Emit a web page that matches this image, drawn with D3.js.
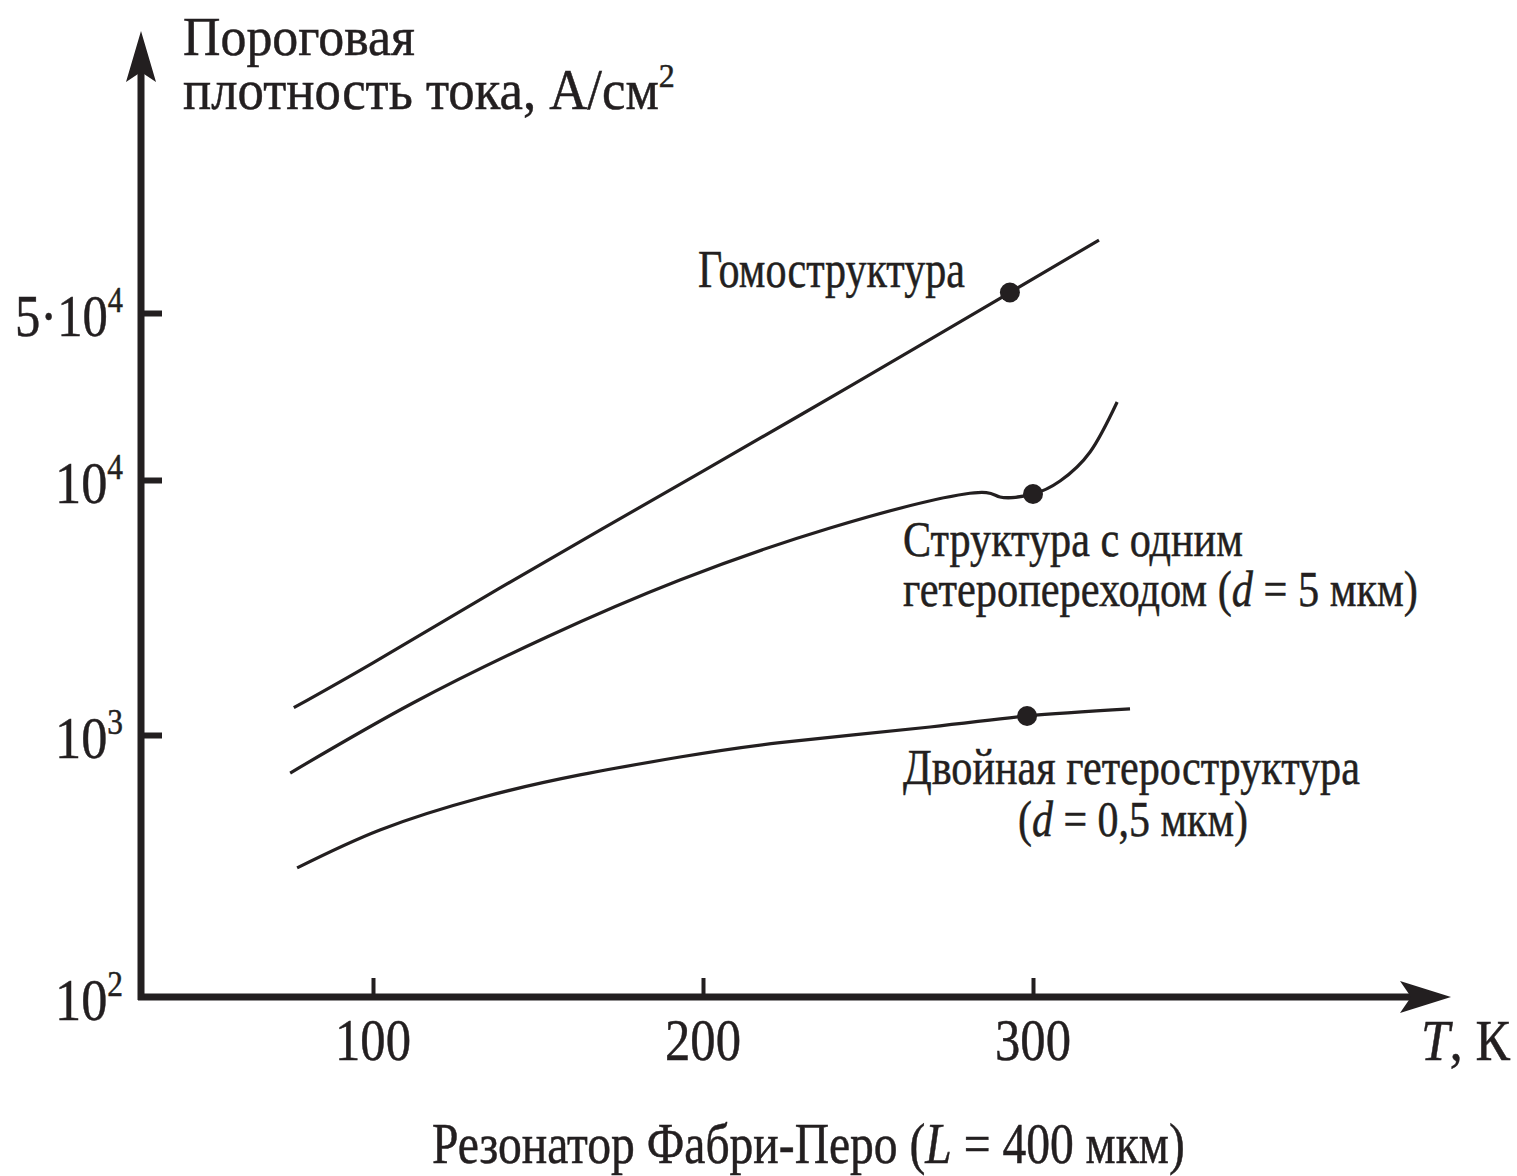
<!DOCTYPE html>
<html>
<head>
<meta charset="utf-8">
<script src="https://cdn.jsdelivr.net/npm/d3@7"></script>
<style>
  html, body { margin: 0; padding: 0; background: #fff; }
  svg { display: block; }
  text { font-family: "Liberation Serif", "DejaVu Serif", serif; fill: #231f20; stroke: #231f20; stroke-width: 0.5px; }
</style>
</head>
<body>
<svg id="chart" width="1517" height="1176"></svg>
<script>
// ---------- data ----------
const xTicks = [100, 200, 300];
const xTickLabels = ["100", "200", "300"];
const yTicks = [100, 1000, 10000, 50000];
const yTickMain = ["10", "10", "10", "5·10"];
const yTickSup = ["2", "3", "4", "4"];

const homoT = [76, 100, 138, 200, 245, 293, 320];
const homoJ = [1280, 1920, 3740, 10900, 24900, 60900, 101000];

const singleT = [74.9, 112.1, 152.7, 193, 238.5, 279.4, 290, 300, 308.2, 317.3, 325.5];
const singleJ = [716, 1335, 2423, 4053, 6483, 8812, 8576, 8812, 9910, 13100, 21210];

const doubleT = [77, 102.1, 132.4, 162.7, 193, 223.3, 268.8, 298.2, 329.4];
const doubleJ = [311, 434, 575, 704, 824, 935, 1075, 1187, 1265];

const markT = [293, 300, 298.2];
const markJ = [60900, 8812, 1187];

// ---------- layout ----------
const ink = "#231f20";
const svg = d3.select("#chart");
svg.append("rect").attr("width", 1517).attr("height", 1176).attr("fill", "#fff");

const x = d3.scaleLinear().domain([100, 300]).range([373, 1033]);
const y = d3.scaleLog().domain([100, 1000, 10000, 50000]).range([997, 735, 480, 313]);

const axisX0 = 141, axisY0 = 997;

// tick marks via d3 axes (inward)
const gx = svg.append("g").attr("transform", `translate(0,${axisY0})`)
  .call(d3.axisTop(x).tickValues(xTicks).tickSize(19).tickFormat(""));
gx.select(".domain").remove();
gx.selectAll(".tick line").attr("stroke", ink).attr("stroke-width", 4);

const gy = svg.append("g").attr("transform", `translate(${axisX0},0)`)
  .call(d3.axisRight(y).tickValues(yTicks.slice(1)).tickSize(21).tickFormat(""));
gy.select(".domain").remove();
gy.selectAll(".tick line").attr("stroke", ink).attr("stroke-width", 6);

// axis lines
svg.append("line").attr("x1", axisX0 - 3).attr("y1", axisY0).attr("x2", 1420).attr("y2", axisY0)
  .attr("stroke", ink).attr("stroke-width", 7);
svg.append("line").attr("x1", axisX0).attr("y1", axisY0 + 3).attr("x2", axisX0).attr("y2", 60)
  .attr("stroke", ink).attr("stroke-width", 7);
// arrowheads
svg.append("path").attr("fill", ink)
  .attr("d", `M1451,${axisY0} L1400,${axisY0 - 16} L1411,${axisY0} L1400,${axisY0 + 16} Z`);
svg.append("path").attr("fill", ink)
  .attr("d", `M${axisX0},31 L${axisX0 - 15},82 L${axisX0},72 L${axisX0 + 15},82 Z`);

// ---------- text helper ----------
function fitText(parts, left, baseline, width, size) {
  const t = svg.append("text").attr("font-size", size).attr("x", 0).attr("y", 0);
  parts.forEach(p => {
    const ts = t.append("tspan").text(p.t);
    if (p.i) ts.attr("font-style", "italic");
    if (p.sup) ts.attr("font-size", p.sup).attr("dy", -p.rise);
  });
  const len = t.node().getComputedTextLength();
  const sx = width / len;
  t.attr("transform", `translate(${left},${baseline}) scale(${sx},1)`);
  return t;
}

// y tick labels
yTicks.forEach((v, i) => {
  const yy = y(v) + 23;
  const w = yTickMain[i].length > 2 ? 108 : 68;
  fitText([{ t: yTickMain[i] }, { t: yTickSup[i], sup: 36, rise: 24 }], 123 - w, yy, w, 60);
});

// x tick labels
xTicks.forEach((v, i) => {
  fitText([{ t: xTickLabels[i] }], x(v) - 38, 1060, 76, 60);
});

// axis titles
fitText([{ t: "Пороговая" }], 183, 55, 232, 54);
fitText([{ t: "плотность тока, А/см" }, { t: "2", sup: 34, rise: 22 }], 183, 109, 492, 56);
fitText([{ t: "T", i: true }, { t: ", К" }], 1421, 1060, 89, 58);
fitText([{ t: "Резонатор Фабри-Перо (" }, { t: "L", i: true }, { t: " = 400 мкм)" }], 432, 1163, 753, 56);

// curve labels
fitText([{ t: "Гомоструктура" }], 698, 287, 267, 52);
fitText([{ t: "Структура с одним" }], 903, 556, 340, 50);
fitText([{ t: "гетеропереходом (" }, { t: "d", i: true }, { t: " = 5 мкм)" }], 903, 606, 515, 50);
fitText([{ t: "Двойная гетероструктура" }], 903, 784, 457, 50);
fitText([{ t: "(" }, { t: "d", i: true }, { t: " = 0,5 мкм)" }], 1018, 836, 230, 50);

// ---------- curves ----------
const line = d3.line().x(d => x(d[0])).y(d => y(d[1])).curve(d3.curveNatural);
[[homoT, homoJ], [singleT, singleJ], [doubleT, doubleJ]].forEach(([T, J]) => {
  svg.append("path").attr("d", line(T.map((t, i) => [t, J[i]])))
    .attr("fill", "none").attr("stroke", ink).attr("stroke-width", 3.2);
});

svg.selectAll("circle.mark").data(markT.map((t, i) => [t, markJ[i]])).enter()
  .append("circle").attr("class", "mark")
  .attr("cx", d => x(d[0])).attr("cy", d => y(d[1])).attr("r", 10).attr("fill", ink);
</script>
</body>
</html>
